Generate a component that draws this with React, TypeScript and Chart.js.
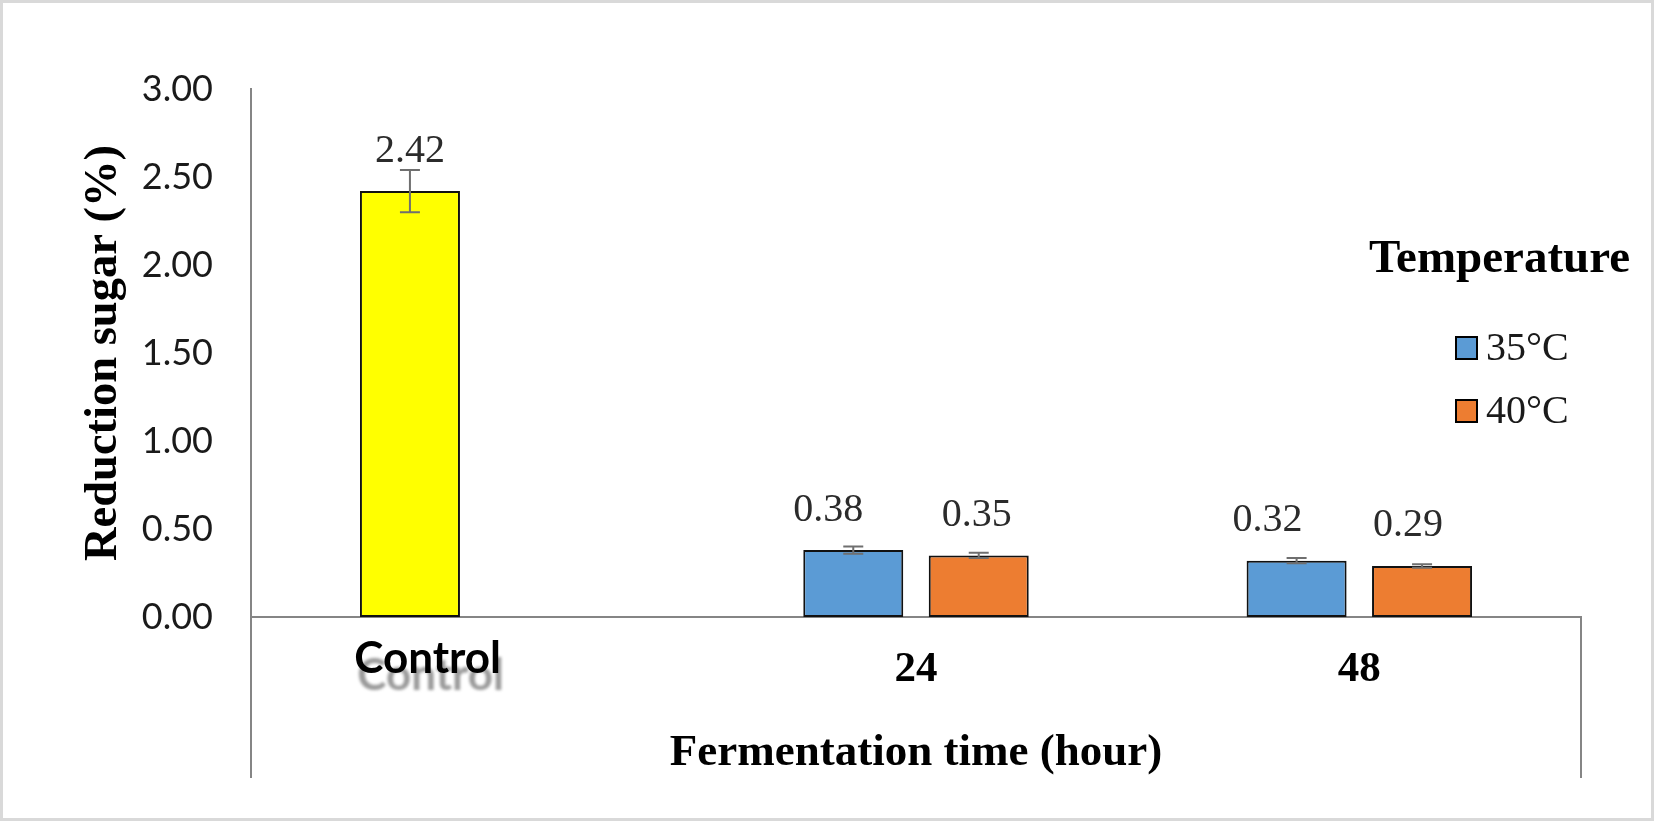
import React, { useEffect, useRef } from 'react';
import { Chart, registerables } from 'chart.js';

Chart.register(...registerables);

// ---- data ----
const categories = ['Control', '24', '48'];
const seriesNames = ['35°C', '40°C'];
const values35 = [2.42, 0.38, 0.32];
const values40 = [null, 0.35, 0.29];
const errors35 = [0.12, 0.02, 0.015];
const errors40 = [null, 0.015, 0.01];
const yMin = 0;
const yMax = 3;
const yStep = 0.5;
const legendTitle = 'Temperature';
const xTitle = 'Fermentation time (hour)';
const yTitle = 'Reduction sugar (%)';

// ---- styles / layout ----
const W = 1654;
const H = 821;
const SERIF = '"Liberation Serif", "Times New Roman", serif';
const SANS = 'Lato, "Liberation Sans", sans-serif';
const controlColor = '#FFFF00';
const blue = '#5B9BD5';
const orange = '#ED7D31';
const axisColor = '#858585';
const labelShift35 = [0, -25, -29];
const labelShift40 = [0, -2, -14];

const framePlugin = {
  id: 'frame',
  beforeDraw(chart: any) {
    const { ctx, width, height } = chart;
    ctx.save();
    ctx.fillStyle = '#ffffff';
    ctx.fillRect(0, 0, width, height);
    ctx.strokeStyle = '#d9d9d9';
    ctx.lineWidth = 3;
    ctx.strokeRect(1.5, 1.5, width - 3, height - 3);
    ctx.restore();
  },
  afterDatasetsDraw(chart: any) {
    const { ctx } = chart;
    const yScale = chart.scales.y;
    chart.data.datasets.forEach((ds: any, di: number) => {
      const meta = chart.getDatasetMeta(di);
      const shifts = di === 0 ? labelShift35 : labelShift40;
      meta.data.forEach((bar: any, i: number) => {
        const v = ds.data[i];
        if (v == null) return;
        const e = ds.errors[i];
        ctx.save();
        if (e != null) {
          const yt = yScale.getPixelForValue(v + e);
          const yb = yScale.getPixelForValue(v - e);
          ctx.strokeStyle = '#6f6f6f';
          ctx.lineWidth = 2;
          ctx.beginPath();
          ctx.moveTo(bar.x, yt);
          ctx.lineTo(bar.x, yb);
          ctx.moveTo(bar.x - 10, yt);
          ctx.lineTo(bar.x + 10, yt);
          ctx.moveTo(bar.x - 10, yb);
          ctx.lineTo(bar.x + 10, yb);
          ctx.stroke();
        }
        ctx.fillStyle = '#2b2b2b';
        ctx.font = `40px ${SERIF}`;
        ctx.textAlign = 'center';
        ctx.textBaseline = 'middle';
        ctx.fillText(v.toFixed(2), bar.x + shifts[i], bar.y - 40);
        ctx.restore();
      });
    });
  },
  afterDraw(chart: any) {
    const { ctx, chartArea } = chart;
    const xScale = chart.scales.x;
    ctx.save();
    // category-axis divider lines below the x axis
    ctx.strokeStyle = axisColor;
    ctx.lineWidth = 2;
    ctx.beginPath();
    ctx.moveTo(chartArea.left, chartArea.bottom);
    ctx.lineTo(chartArea.left, 778);
    ctx.moveTo(chartArea.right, chartArea.bottom);
    ctx.lineTo(chartArea.right, 778);
    ctx.stroke();

    // "Control" label with its shadow
    const cx = xScale.getPixelForValue(0) - 45;
    const cy = 659;
    ctx.font = `bold 44px ${SANS}`;
    ctx.textAlign = 'center';
    ctx.textBaseline = 'middle';
    ctx.save();
    ctx.filter = 'blur(1.5px)';
    ctx.fillStyle = 'rgba(120,120,120,0.75)';
    ctx.fillText(categories[0], cx + 3, cy + 17);
    ctx.restore();
    ctx.fillStyle = '#000000';
    ctx.fillText(categories[0], cx, cy);

    // legend
    ctx.textAlign = 'left';
    ctx.textBaseline = 'alphabetic';
    ctx.font = `bold 47px ${SERIF}`;
    ctx.fillStyle = '#000000';
    ctx.fillText(legendTitle, 1369, 272);
    chart.data.datasets.forEach((ds: any, di: number) => {
      const base = 360 + di * 63;
      ctx.fillStyle = ds.legendColor;
      ctx.fillRect(1456, base - 23, 21, 22);
      ctx.strokeStyle = '#000000';
      ctx.lineWidth = 2;
      ctx.strokeRect(1456, base - 23, 21, 22);
      ctx.fillStyle = '#1a1a1a';
      ctx.font = `40px ${SERIF}`;
      ctx.fillText(ds.label, 1486, base);
    });
    ctx.restore();
  },
};

export default function App() {
  const ref = useRef<HTMLCanvasElement | null>(null);

  useEffect(() => {
    document.body.style.margin = '0';
    const canvas = ref.current;
    if (!canvas) return;
    const chart = new Chart(canvas, {
      type: 'bar',
      data: {
        labels: categories,
        datasets: [
          {
            label: seriesNames[0],
            data: values35,
            errors: errors35,
            legendColor: blue,
            backgroundColor: values35.map((_, i) => (i === 0 ? controlColor : blue)),
            borderColor: '#111111',
            borderWidth: 2,
            borderSkipped: false,
            categoryPercentage: 0.566,
            barPercentage: 0.797,
          } as any,
          {
            label: seriesNames[1],
            data: values40,
            errors: errors40,
            legendColor: orange,
            backgroundColor: orange,
            borderColor: '#111111',
            borderWidth: 2,
            borderSkipped: false,
            categoryPercentage: 0.566,
            barPercentage: 0.797,
          } as any,
        ],
      },
      options: {
        animation: false,
        responsive: false,
        devicePixelRatio: 1,
        layout: { padding: { top: 89, right: 73, left: 0, bottom: 0 } },
        plugins: {
          legend: { display: false },
          tooltip: { enabled: false },
        },
        scales: {
          x: {
            grid: { display: false, drawTicks: false },
            border: { display: true, color: axisColor, width: 2 },
            ticks: {
              padding: 27,
              color: '#000000',
              font: { family: SERIF, size: 43, weight: 'bold' },
              callback: function (this: any, value: any, index: number) {
                return index === 0 ? '' : categories[index];
              },
            },
            title: {
              display: true,
              text: xTitle,
              color: '#000000',
              font: { family: SERIF, size: 45, weight: 'bold' },
              padding: { top: 0, bottom: 41 },
            },
            afterFit(scale: any) {
              scale.height = H - 617;
            },
          },
          y: {
            min: yMin,
            max: yMax,
            grid: { display: false, drawTicks: false },
            border: { display: true, color: axisColor, width: 2 },
            ticks: {
              stepSize: yStep,
              padding: 38,
              color: '#1a1a1a',
              font: { family: SANS, size: 36 },
              callback: (v: any) => Number(v).toFixed(2),
            },
            title: {
              display: true,
              text: yTitle,
              color: '#000000',
              font: { family: SERIF, size: 46.5, weight: 'bold' },
              padding: { top: 76, bottom: 0 },
            },
            afterFit(scale: any) {
              scale.width = 251;
            },
          },
        },
      } as any,
      plugins: [framePlugin],
    });
    return () => chart.destroy();
  }, []);

  return (
    <canvas
      ref={ref}
      width={W}
      height={H}
      style={{ display: 'block', width: W + 'px', height: H + 'px' }}
    />
  );
}
